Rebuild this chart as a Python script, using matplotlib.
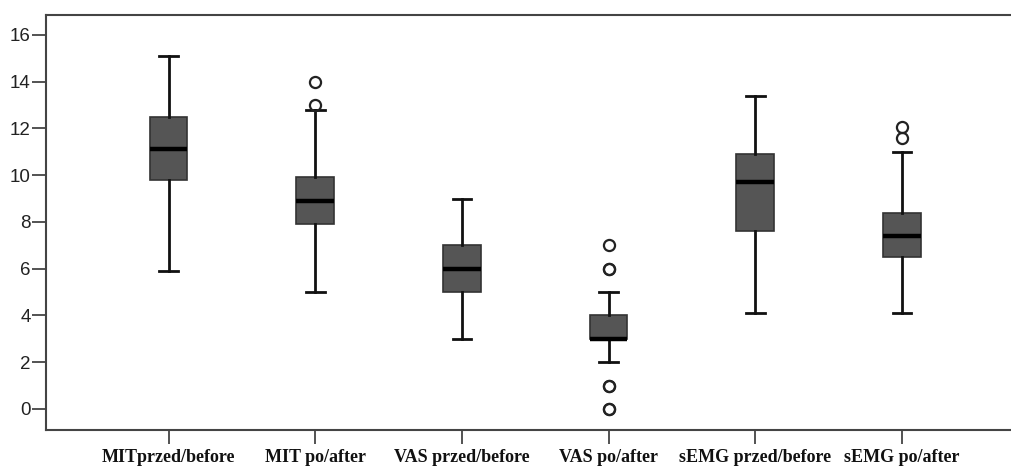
import matplotlib
matplotlib.use('Agg')
import matplotlib.pyplot as plt

# group labels
labels = ['MITprzed/before', 'MIT po/after', 'VAS przed/before',
          'VAS po/after', 'sEMG przed/before', 'sEMG po/after']

# five-number summaries
whislo = [5.9, 5.0, 3.0, 2.0, 4.1, 4.1]
q1 = [9.8, 7.9, 5.0, 3.0, 7.6, 6.5]
med = [11.1, 8.9, 6.0, 3.0, 9.7, 7.4]
q3 = [12.5, 9.9, 7.0, 4.0, 10.9, 8.4]
whishi = [15.1, 12.8, 9.0, 5.0, 13.4, 11.0]
fliers = [[], [13.0, 14.0], [], [7.0, 6.0, 6.0, 1.0, 1.0, 0.0, 0.0], [], [11.6, 12.05]]

yticks = [0, 2, 4, 6, 8, 10, 12, 14, 16]

stats = []
for i, lab in enumerate(labels):
    stats.append({'label': lab, 'whislo': whislo[i], 'q1': q1[i], 'med': med[i],
                  'q3': q3[i], 'whishi': whishi[i], 'fliers': fliers[i]})

fig = plt.figure(figsize=(10.12, 4.68), dpi=100)
ax = fig.add_axes([46 / 1012, 38 / 468, 1 - 46 / 1012, (430 - 15) / 468])

ax.bxp(stats, positions=range(1, 7), widths=0.257, patch_artist=True,
       boxprops=dict(facecolor='#555555', edgecolor='#333333', linewidth=1.2),
       medianprops=dict(color='black', linewidth=3.2),
       whiskerprops=dict(color='#111111', linewidth=2.0),
       capprops=dict(color='#111111', linewidth=2.0),
       flierprops=dict(marker='o', markersize=8, markerfacecolor='none',
                       markeredgecolor='#222222', markeredgewidth=1.6))

ax.set_xlim(0.164, 6.75)
ax.set_ylim(-0.9, 16.85)
ax.set_yticks(yticks)
ax.set_yticklabels([str(t) for t in yticks], fontsize=13.5, color='#222222',
                   fontfamily='Liberation Sans')
ax.set_xticks(range(1, 7))
ax.set_xticklabels(labels, fontsize=13, fontweight='bold',
                   fontfamily='Liberation Serif', color='#111111')
ax.tick_params(axis='y', length=10, width=1.3, color='#444444', pad=1)
ax.tick_params(axis='x', length=10, width=1.3, color='#444444', pad=4)

for side in ['left', 'top', 'bottom']:
    ax.spines[side].set_color('#444444')
    ax.spines[side].set_linewidth(1.5)
ax.spines['right'].set_visible(False)

fig.savefig('out.png', dpi=100, facecolor='white')
